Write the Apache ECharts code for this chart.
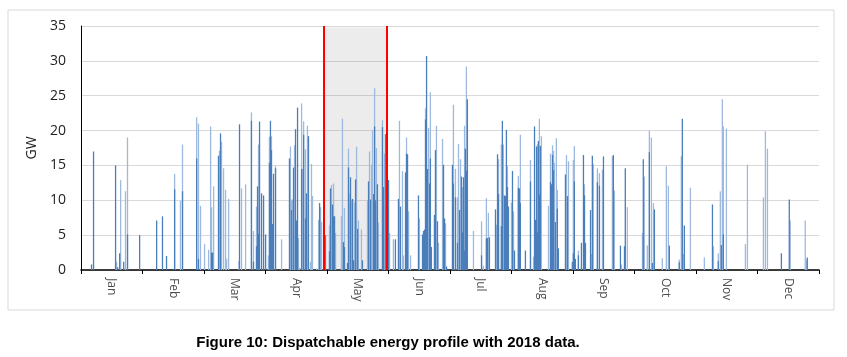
<!DOCTYPE html>
<html lang="en">
<head>
    <title>Dispatchable energy profile 2018</title>
    <meta charset="utf-8">
    <script src="https://cdn.jsdelivr.net/npm/echarts@6/dist/echarts.min.js"></script>
    <style>
        html, body { margin: 0; padding: 0; background: #fff; }
        #chart { width: 847px; height: 357px; }
    </style>
</head>
<body>
    <div id="chart"></div>
    <script type="text/javascript">
        // month names on the axis
        var months = ["Jan", "Feb", "Mar", "Apr", "May", "Jun", "Jul", "Aug", "Sep", "Oct", "Nov", "Dec"];
        var yTicks = [0, 5, 10, 15, 20, 25, 30, 35];
        // highlighted window (day of year)
        var windowDays = [120.1, 151.1];

        // spikes: [day of year, GW]
        // darker part of each spike
        var darkSpikes = [
            [5.2, 0.8], [6.2, 17.0], [17.1, 15.0], [18.1, 0.4], [19.1, 2.4], [21.1, 1.2], [23.0, 5.1], [29.0, 5.0],
            [37.4, 7.1], [40.3, 7.7], [42.3, 2.0], [46.3, 11.6], [50.2, 11.3], [57.2, 16.0], [58.1, 1.6],
            [64.6, 2.5], [65.1, 2.5], [68.0, 16.4], [69.0, 19.6], [78.4, 20.9], [84.3, 21.4], [85.3, 1.2],
            [86.8, 3.4], [87.3, 12.0], [87.8, 5.2], [88.3, 21.3], [89.3, 11.0], [90.3, 10.7], [91.3, 5.1],
            [93.2, 15.4], [93.7, 21.4], [94.2, 17.2], [94.7, 6.6], [95.2, 13.8], [96.2, 14.6], [103.1, 16.0],
            [104.1, 8.6], [105.1, 14.7], [106.1, 20.2], [106.6, 7.1], [107.1, 23.3], [109.1, 14.5], [110.1, 19.4],
            [111.0, 7.4], [111.5, 11.0], [112.5, 19.2], [118.0, 9.6],
            [120.9, 5.0], [122.9, 2.7], [123.4, 11.7], [124.4, 9.4], [124.9, 7.7], [125.4, 7.7], [129.8, 4.0],
            [130.3, 3.3], [131.8, 1.0], [132.3, 14.7], [133.3, 13.3], [134.3, 10.2], [134.8, 1.4], [135.8, 13.0],
            [136.8, 5.9], [139.2, 1.4], [142.2, 12.7], [143.2, 10.1], [144.7, 10.9], [145.2, 20.6], [145.7, 10.0],
            [146.6, 12.3], [149.1, 20.5], [149.6, 11.9], [150.6, 19.5],
            [152.1, 12.9], [155.5, 4.4], [157.0, 10.2], [158.0, 9.1], [160.5, 14.0], [161.0, 16.7], [161.5, 16.6],
            [166.9, 10.7], [168.9, 5.1], [169.4, 5.6], [169.9, 5.8], [170.4, 21.6], [170.9, 30.7], [171.4, 14.5],
            [172.4, 12.4], [172.8, 16.0], [173.3, 3.3], [174.8, 7.9], [175.3, 17.2], [176.3, 7.0], [179.3, 15.1],
            [179.8, 7.4], [180.8, 0.5], [183.7, 15.1], [184.2, 12.4], [185.2, 10.4], [186.2, 3.9], [187.2, 8.6],
            [188.2, 13.4], [188.7, 5.4], [189.2, 13.3], [189.7, 2.8], [190.1, 17.4], [190.6, 14.2], [191.1, 24.5],
            [198.1, 2.1], [200.5, 4.5], [201.0, 4.6], [202.0, 4.7], [205.0, 8.7], [206.0, 16.6], [206.5, 10.9],
            [207.9, 6.3], [208.4, 21.4], [209.4, 10.7], [209.9, 10.6], [210.4, 20.1], [210.9, 11.9], [211.4, 9.1],
            [213.4, 14.2], [214.4, 2.8], [216.3, 11.8], [216.8, 11.7], [217.3, 9.6], [219.8, 2.8], [222.3, 12.7],
            [224.3, 20.6], [224.8, 7.2], [225.3, 17.7], [225.7, 5.4], [226.2, 18.5], [226.7, 10.8], [227.2, 17.8],
            [232.2, 12.6], [232.7, 12.3], [233.2, 16.5], [233.7, 14.3], [234.6, 6.9], [235.6, 8.8], [236.1, 3.1],
            [239.6, 13.7], [240.6, 10.6], [243.0, 1.2], [243.5, 2.4], [244.0, 12.7], [244.5, 1.6], [246.0, 2.1],
            [247.5, 3.9], [248.5, 16.5], [249.0, 10.7], [249.5, 3.9], [252.0, 8.6], [252.9, 16.4], [255.4, 12.6],
            [256.4, 12.1], [258.4, 16.3], [263.3, 16.5], [266.8, 3.5], [268.8, 3.4], [269.2, 14.6],
            [278.1, 15.9], [281.1, 16.9], [282.6, 1.0], [283.6, 8.7], [291.0, 3.5], [295.9, 1.1], [297.4, 21.7],
            [298.4, 6.4], [312.3, 9.4], [315.2, 1.3], [316.7, 3.6], [317.7, 5.1], [346.4, 2.4], [350.3, 10.1],
            [359.2, 1.8]
        ];
        // lighter part (tips and thin spikes)
        var lightSpikes = [
            [17.6, 1.2], [19.6, 12.9], [22.0, 11.3], [23.0, 19.0], [46.3, 13.8], [49.2, 9.9], [50.2, 18.0],
            [57.2, 21.9], [58.1, 21.0], [59.1, 9.2], [61.1, 3.7], [63.1, 2.9], [64.1, 20.6], [64.6, 9.0],
            [65.6, 12.0], [68.5, 17.1], [69.5, 18.4], [70.5, 14.6], [71.5, 11.5], [72.0, 1.6], [73.0, 10.2],
            [78.1, 1.3], [79.4, 11.7], [81.4, 12.3], [84.3, 22.6], [85.3, 5.6], [86.8, 9.1], [87.8, 18.0],
            [92.7, 2.1], [93.2, 19.1], [94.2, 19.2], [96.2, 14.9], [99.2, 4.4], [103.6, 17.7], [104.1, 10.1],
            [104.6, 10.1], [105.6, 17.9], [107.6, 4.6], [108.1, 0.3], [109.1, 23.9], [109.6, 14.5], [110.1, 21.3],
            [111.0, 17.3], [112.0, 20.7], [113.5, 1.2], [114.0, 15.2], [114.5, 10.6], [116.5, 0.2], [117.5, 7.2],
            [118.5, 9.0], [119.0, 6.9],
            [122.9, 6.4], [123.9, 12.2], [124.9, 12.4], [125.9, 5.3], [128.8, 7.7], [129.3, 21.7], [130.3, 8.9],
            [132.3, 17.4], [132.8, 11.0], [133.8, 10.1], [135.3, 9.7], [136.3, 17.7], [137.2, 7.1], [138.7, 5.8],
            [141.7, 10.0], [142.7, 17.0], [143.7, 15.1], [144.2, 20.0], [145.2, 26.1], [146.1, 17.5], [147.1, 6.8],
            [149.1, 21.5], [150.1, 16.7],
            [152.6, 5.3], [154.5, 4.4], [157.5, 21.4], [159.0, 14.2], [159.5, 2.1], [161.0, 19.0], [162.0, 8.4],
            [163.0, 2.1], [167.4, 7.4], [170.4, 23.2], [171.9, 20.4], [172.8, 25.5], [175.8, 20.7], [176.8, 3.9],
            [178.8, 18.8], [180.3, 6.7], [184.2, 23.7], [185.2, 14.5], [186.2, 10.4], [186.7, 18.1], [187.7, 15.9],
            [188.7, 11.9], [189.7, 20.7], [190.6, 29.2], [194.1, 5.6], [198.1, 7.0], [199.0, 0.6], [200.5, 10.3],
            [201.5, 8.2], [205.5, 6.5], [206.5, 15.9], [207.9, 18.0], [208.9, 18.0], [210.9, 14.9], [212.9, 9.7],
            [213.9, 8.4], [216.3, 13.5], [217.3, 19.4], [222.3, 15.8], [223.8, 1.9], [225.7, 18.0], [226.7, 21.7],
            [227.7, 19.2], [231.2, 9.2], [232.2, 16.7], [233.2, 17.9], [233.7, 17.1], [234.1, 15.4], [235.1, 18.9],
            [235.6, 11.5], [240.1, 16.5], [241.1, 15.6], [243.5, 15.8], [244.0, 17.8], [246.0, 2.8], [249.0, 12.3],
            [252.5, 2.3], [253.4, 15.2], [255.4, 14.6], [256.4, 13.9], [257.9, 14.4], [262.8, 16.3], [263.8, 11.4],
            [267.3, 0.8], [270.2, 9.0], [277.7, 5.3], [278.6, 13.4], [280.1, 3.5], [281.1, 20.0], [282.1, 19.0],
            [283.1, 9.6], [287.5, 1.7], [289.5, 14.9], [290.5, 12.1], [295.9, 1.5], [296.9, 16.3], [297.9, 2.3],
            [301.4, 11.8], [308.3, 1.8], [312.8, 3.4], [315.2, 2.4], [316.2, 11.3], [317.2, 24.5], [317.7, 20.6],
            [319.2, 20.3], [328.6, 3.7], [329.6, 15.1], [337.5, 10.4], [338.5, 19.9], [339.5, 17.4], [350.8, 7.1],
            [358.2, 7.1], [358.7, 1.5]
        ];

        var chart = echarts.init(document.getElementById("chart"));
        var option = {
            backgroundColor: "#fff",
            animation: false,
            grid: { left: 81, right: 28, top: 26, bottom: 87, containLabel: false },
            graphic: [
                {
                    type: "rect",
                    shape: { x: 8, y: 10, width: 826, height: 300 },
                    style: { fill: "none", stroke: "#d9d9d9", lineWidth: 1 },
                    silent: true
                },
                {
                    type: "text",
                    x: 388, y: 343,
                    style: {
                        text: "Figure 10: Dispatchable energy profile with 2018 data.",
                        font: "bold 15px 'Liberation Sans', Arial, sans-serif",
                        fill: "#000",
                        align: "center",
                        verticalAlign: "middle"
                    }
                }
            ],
            xAxis: [
                {
                    type: "category",
                    data: months,
                    boundaryGap: true,
                    axisLine: { show: true, lineStyle: { color: "#000", width: 1.5 } },
                    axisTick: { show: true, length: 4, lineStyle: { color: "#000" } },
                    splitLine: { show: false },
                    axisLabel: {
                        rotate: -90,
                        margin: 8,
                        fontSize: 12,
                        color: "#4d4d4d",
                        fontFamily: "'Open Sans', sans-serif"
                    }
                },
                {
                    type: "value",
                    min: 0,
                    max: 365,
                    show: false
                }
            ],
            yAxis: {
                type: "value",
                min: yTicks[0],
                max: yTicks[yTicks.length - 1],
                interval: 5,
                name: "GW",
                nameLocation: "middle",
                nameGap: 36,
                nameTextStyle: { fontSize: 14, color: "#222", fontFamily: "'Open Sans', sans-serif" },
                axisLine: { show: true, lineStyle: { color: "#000", width: 1 } },
                axisTick: { show: false },
                splitLine: { lineStyle: { color: "#d9d9d9", width: 1 } },
                axisLabel: { fontSize: 14, color: "#222", margin: 15, fontFamily: "'Open Sans', sans-serif" }
            },
            series: [
                {
                    name: "light",
                    type: "bar",
                    xAxisIndex: 1,
                    barWidth: 1.3,
                    barGap: "-100%",
                    itemStyle: { color: "#9dbade" },
                    data: lightSpikes
                },
                {
                    name: "dark",
                    type: "bar",
                    xAxisIndex: 1,
                    barWidth: 1.3,
                    barGap: "-100%",
                    itemStyle: { color: "#4a7ebb" },
                    data: darkSpikes
                },
                {
                    // grey window and its red edges, on top of the spikes
                    name: "window",
                    type: "line",
                    xAxisIndex: 1,
                    z: 5,
                    data: [],
                    markArea: {
                        silent: true,
                        itemStyle: { color: "rgba(128,128,128,0.15)" },
                        data: [[{ xAxis: windowDays[0], yAxis: 0 }, { xAxis: windowDays[1], yAxis: 34.8 }]]
                    },
                    markLine: {
                        silent: true,
                        symbol: "none",
                        label: { show: false },
                        lineStyle: { color: "#ff0000", width: 2, type: "solid" },
                        data: [{ xAxis: windowDays[0] }, { xAxis: windowDays[1] }]
                    }
                }
            ]
        };
        chart.setOption(option);
    </script>
</body>
</html>
